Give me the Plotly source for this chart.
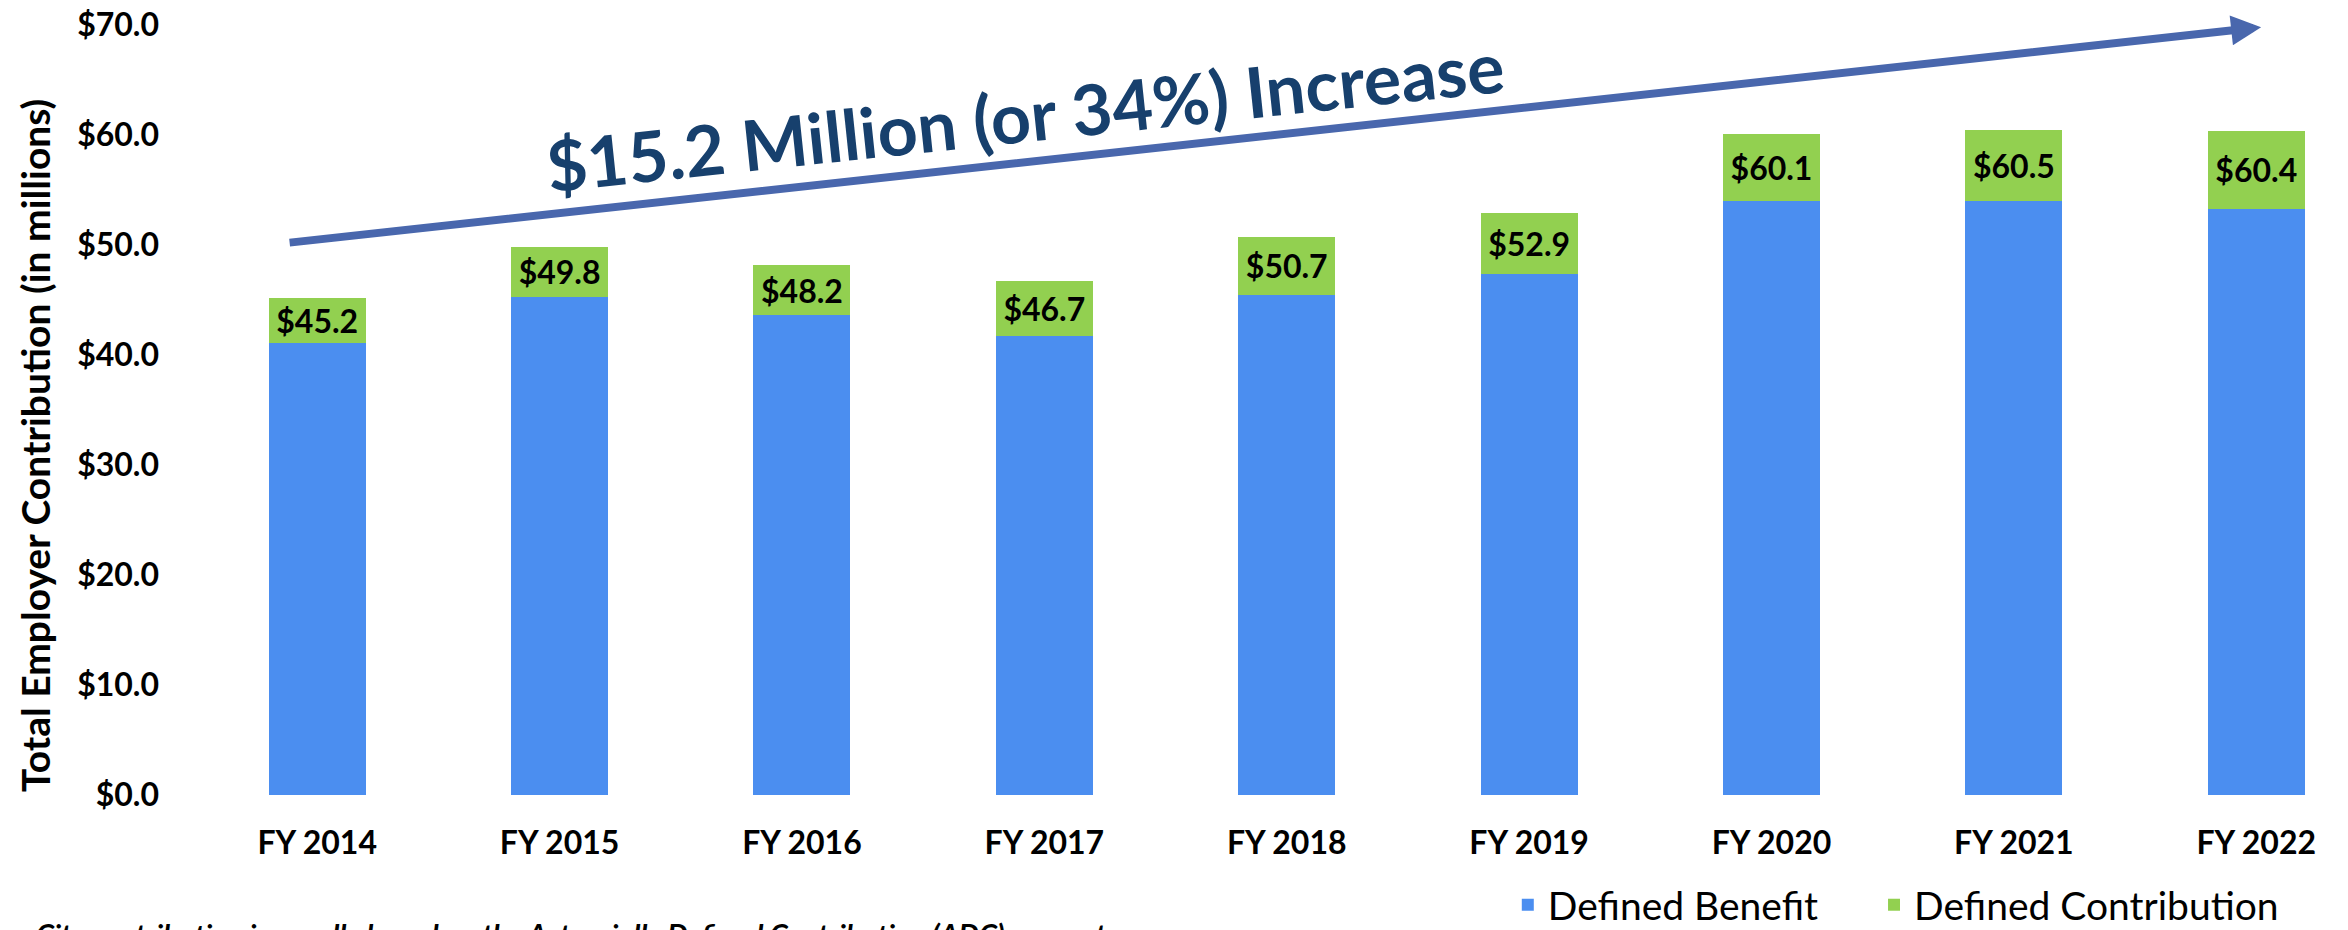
"""
Employer contribution chart, FY 2014 - FY 2022
Stacked bars: defined benefit + defined contribution
"""

import plotly.graph_objects as go

# ---- data ----
years = ["FY 2014", "FY 2015", "FY 2016", "FY 2017", "FY 2018",
         "FY 2019", "FY 2020", "FY 2021", "FY 2022"]
defined_benefit = [41.1, 45.3, 43.6, 41.7, 45.5, 47.4, 54.0, 54.0, 53.3]
defined_contribution = [4.1, 4.5, 4.6, 5.0, 5.2, 5.5, 6.1, 6.5, 7.1]
totals = [45.2, 49.8, 48.2, 46.7, 50.7, 52.9, 60.1, 60.5, 60.4]
y_ticks = [0, 10, 20, 30, 40, 50, 60, 70]

headline = "$15.2 Million (or 34%) Increase"
y_title = "Total Employer Contribution (in millions)"
footnote = "City contribution is usually based on the Actuarially Defined Contribution (ADC) amount"

FONT = "Lato, 'Open Sans', sans-serif"
BLUE = "#4B8EF0"
GREEN = "#92D050"
ARROW = "#4967AD"
NAVY = "#17406D"


def legend_box(x: float) -> dict:
    """
    One horizontal legend box at the bottom right

    Args:
        x: left edge in paper units

    Returns:
        legend settings
    """
    return dict(
        orientation="h",
        x=x,
        xanchor="left",
        yref="container",
        y=0.027,
        yanchor="middle",
        font=dict(family=FONT, size=39, color="black"),
        bgcolor="rgba(0,0,0,0)",
    )


def create_stacked_bar() -> go.Figure:
    """
    Build the stacked bar chart with the growth arrow

    Returns:
        Plotly figure
    """
    fig = go.Figure()
    fig.add_trace(go.Bar(
        x=years,
        y=defined_benefit,
        name="Defined Benefit",
        marker=dict(color=BLUE, line=dict(width=0)),
        legend="legend",
        showlegend=True,
        hoverinfo="skip",
    ))
    fig.add_trace(go.Bar(
        x=years,
        y=defined_contribution,
        name="Defined Contribution",
        marker=dict(color=GREEN, line=dict(width=0)),
        text=[f"${v:.1f}" for v in totals],
        textposition="inside",
        insidetextanchor="middle",
        textangle=0,
        constraintext="none",
        textfont=dict(family=FONT, size=32, color="black", weight="bold"),
        legend="legend2",
        showlegend=True,
        hoverinfo="skip",
    ))

    fig.update_layout(
        barmode="stack",
        bargap=0.6,
        width=2348,
        height=930,
        margin=dict(l=196, r=19, t=25, b=135, autoexpand=False),
        paper_bgcolor="white",
        plot_bgcolor="white",
        showlegend=True,
        font=dict(family=FONT, color="black"),
        legend=legend_box(0.615),
        legend2=legend_box(0.7867),
        xaxis=dict(
            range=[-0.5, 8.3],
            showgrid=False,
            showline=False,
            ticks="",
            automargin=False,
            ticklabelstandoff=26,
            tickfont=dict(family=FONT, size=32, color="black", weight="bold"),
        ),
        yaxis=dict(
            range=[0, 70],
            tickvals=y_ticks,
            ticktext=[f"${v:.1f}" for v in y_ticks],
            showgrid=False,
            showline=False,
            zeroline=False,
            ticks="",
            automargin=False,
            ticklabelstandoff=36,
            tickfont=dict(family=FONT, size=32, color="black", weight="bold"),
        ),
    )

    # growth arrow
    fig.add_annotation(
        x=8.02, y=69.8, xref="x", yref="y",
        ax=-0.12, ay=50.2, axref="x", ayref="y",
        text="", showarrow=True,
        arrowhead=2, arrowsize=0.75, arrowwidth=8, arrowcolor=ARROW,
    )
    fig.add_annotation(
        x=2.92, y=61.8, xref="x", yref="y",
        text=headline, showarrow=False, textangle=-6,
        font=dict(family=FONT, size=70, color=NAVY, weight="bold"),
    )
    # y axis title
    fig.add_annotation(
        x=-0.0755, y=0.4545, xref="paper", yref="paper",
        text=y_title, showarrow=False, textangle=-90,
        xanchor="center", yanchor="middle",
        font=dict(family=FONT, size=39, color="black", weight="bold"),
    )
    # footnote, cut off at the bottom edge like the source slide
    fig.add_annotation(
        x=-0.076, y=-0.155, xref="paper", yref="paper",
        text=f"<i>{footnote}</i>", showarrow=False,
        xanchor="left", yanchor="top",
        font=dict(family=FONT, size=29, color="black", weight="bold"),
    )
    return fig


fig = create_stacked_bar()
# drop the browser's default body margin so the figure sits at the page corner
fig.write_html(
    "out.html",
    config={"displayModeBar": False},
    post_script="document.body.style.margin='0px';",
)
